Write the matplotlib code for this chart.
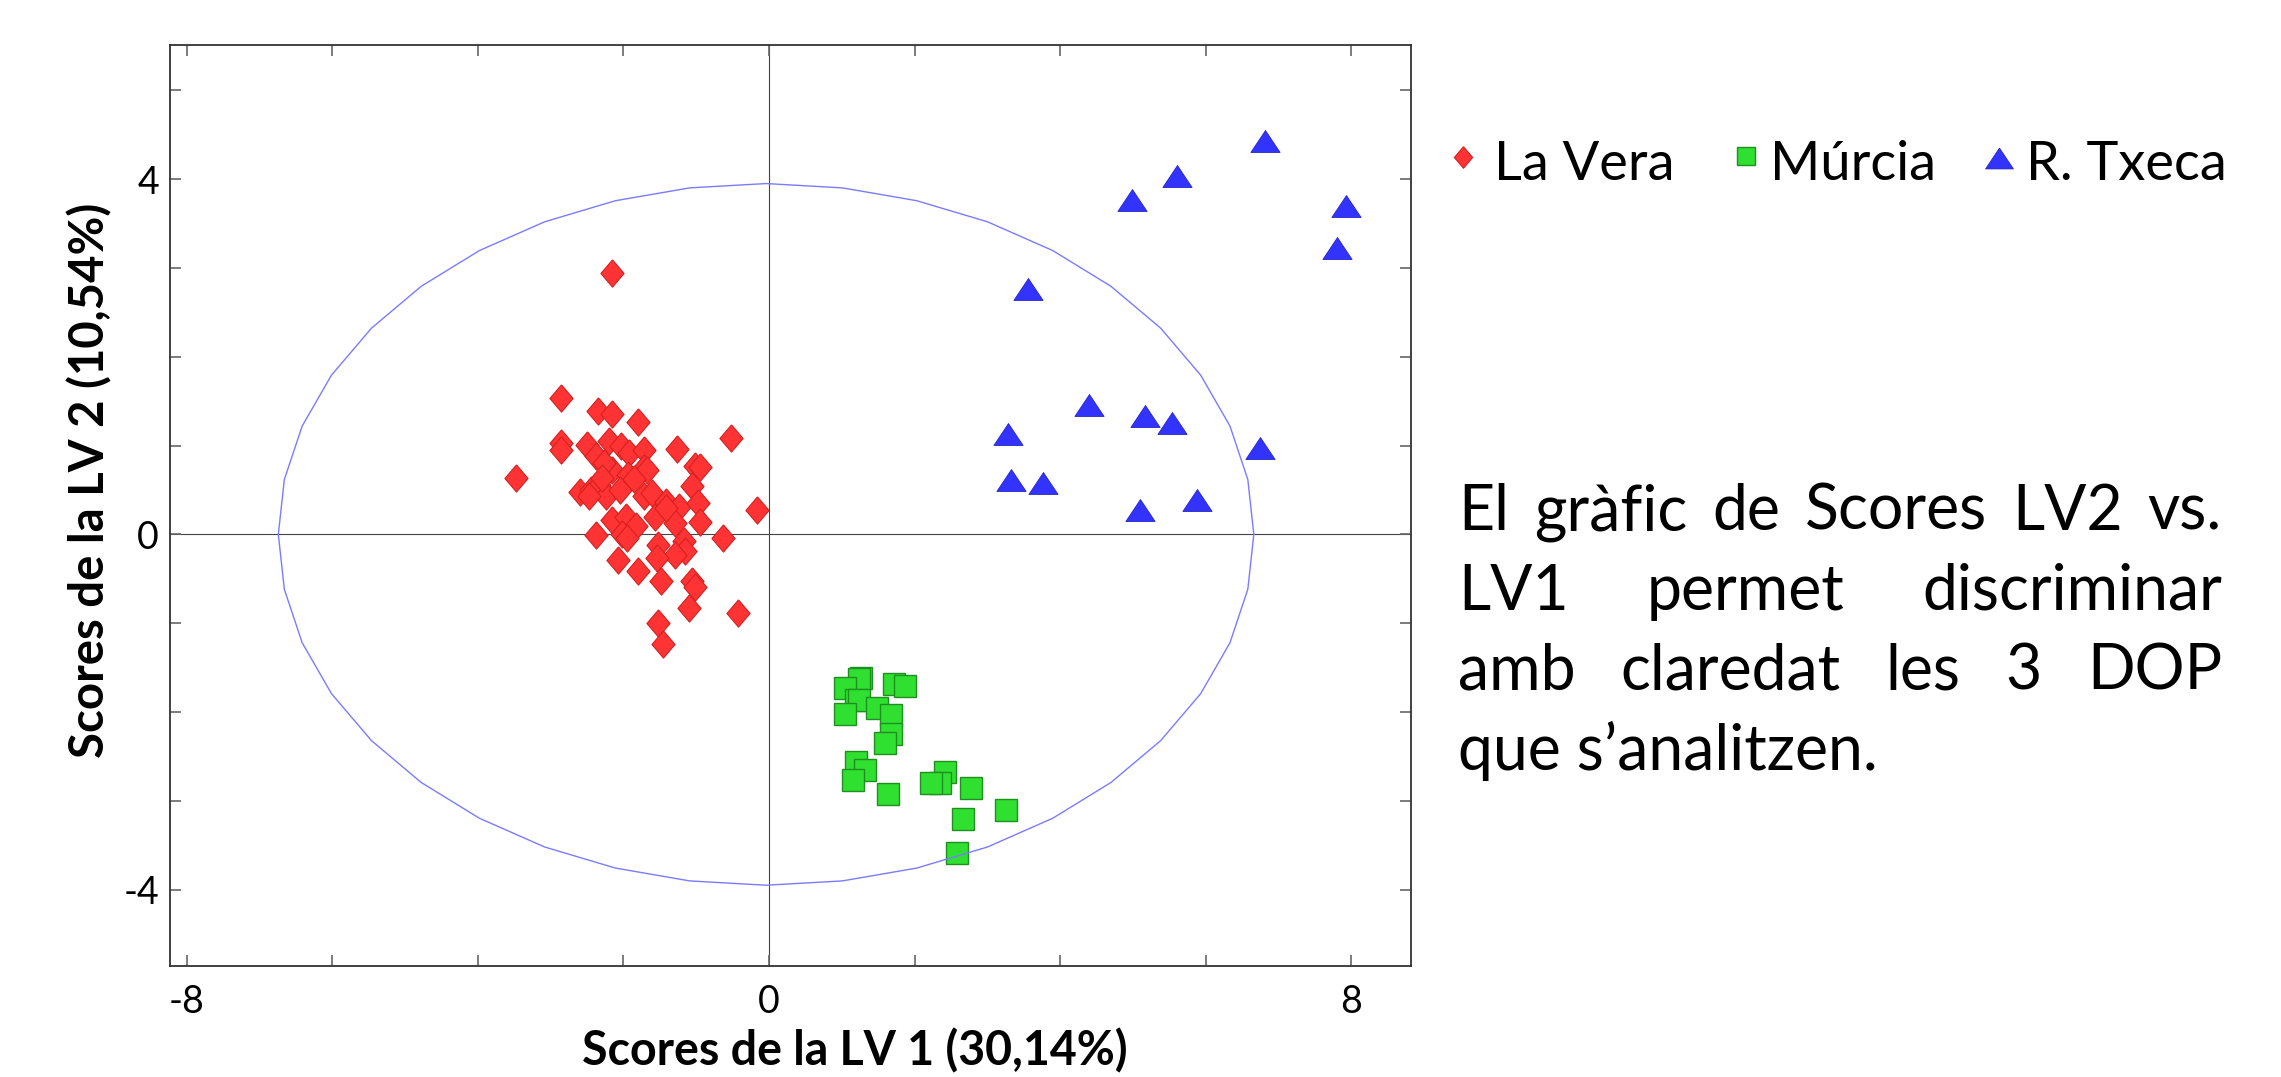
import numpy as np
import matplotlib
matplotlib.use("Agg")
import matplotlib.pyplot as plt
from matplotlib.lines import Line2D

plt.rcParams['font.family'] = ['Lato', 'DejaVu Sans']

# PLS-DA scores (LV1, LV2) for each origin
vera_lv1 = [-2.15, -2.86, -2.35, -2.15, -1.80, -0.52, -2.86, -2.86, -1.26, -2.50,
            -2.38, -2.20, -2.03, -1.92, -1.72, -1.72, -1.02, -0.95, -2.15, -1.93,
            -1.06, -3.48, -2.59, -2.45, -2.34, -2.24, -2.04, -1.72, -1.61, -1.42,
            -1.24, -0.97, -0.16, -2.15, -1.97, -1.83, -1.56, -1.29, -0.95, -2.38,
            -2.02, -1.95, -0.63, -1.52, -1.17, -1.15, -1.29, -1.54, -2.07, -1.80,
            -1.49, -1.06, -1.02, -1.10, -0.43, -1.53, -1.45, -1.68, -1.42, -2.27,
            -1.86, -2.47, -2.29]
vera_lv2 = [2.94, 1.54, 1.39, 1.36, 1.27, 1.08, 1.03, 0.95, 0.96, 1.01,
            0.88, 1.05, 0.99, 0.92, 0.95, 0.75, 0.77, 0.76, 0.73, 0.67,
            0.54, 0.63, 0.48, 0.50, 0.56, 0.43, 0.50, 0.43, 0.47, 0.37,
            0.31, 0.35, 0.27, 0.16, 0.20, 0.09, 0.20, 0.13, 0.14, -0.01,
            0.01, -0.04, -0.04, -0.12, -0.08, -0.19, -0.23, -0.27, -0.29, -0.41,
            -0.53, -0.53, -0.59, -0.83, -0.89, -1.00, -1.23, 0.73, 0.30, 0.80,
            0.62, 0.43, 0.64]

murcia_lv1 = [1.27, 1.24, 1.04, 1.72, 1.87, 1.20, 1.24, 1.48, 1.04, 1.67, 1.67,
              1.60, 1.20, 1.32, 1.16, 1.64, 2.42, 2.35, 2.23, 2.77, 3.25, 2.66, 2.58]
murcia_lv2 = [-1.62, -1.63, -1.73, -1.68, -1.71, -1.86, -1.86, -1.95, -2.02, -2.03, -2.25,
              -2.35, -2.56, -2.65, -2.77, -2.92, -2.68, -2.80, -2.80, -2.86, -3.10, -3.20, -3.59]

txeca_lv1 = [6.82, 5.60, 4.98, 7.92, 7.80, 3.56, 4.39, 5.17, 5.53, 3.29, 6.74, 3.33, 3.76, 5.88, 5.10]
txeca_lv2 = [4.43, 4.04, 3.77, 3.70, 3.22, 2.76, 1.46, 1.33, 1.25, 1.13, 0.97, 0.61, 0.58, 0.39, 0.27]

groups = ["La Vera", "Múrcia", "R. Txeca"]

x_ticks = [-8, -6, -4, -2, 0, 2, 4, 6, 8]
x_ticklabels = ["-8", "", "", "", "0", "", "", "", "8"]
y_ticks = [-4, -3, -2, -1, 0, 1, 2, 3, 4, 5]
y_ticklabels = ["-4", "", "", "", "0", "", "", "", "4", ""]

# confidence ellipse (centre, semi-axes)
ell_center = (-0.04, 0.0)
ell_axes = (6.70, 3.95)

text_lines = [["El", "gràfic", "de", "Scores", "LV2", "vs."],
              ["LV1", "permet", "discriminar"],
              ["amb", "claredat", "les", "3", "DOP"],
              ["que s’analitzen."]]

W, H = 2281, 1077
fig = plt.figure(figsize=(W / 100, H / 100), dpi=100)
ax = fig.add_axes([170 / W, 1 - 965.7 / H, (1410.7 - 170) / W, (965.7 - 45) / H])

diamond = [(0, 1), (0.85, 0), (0, -1), (-0.85, 0), (0, 1)]
triangle = [(0, 0.75), (1, -0.75), (-1, -0.75), (0, 0.75)]

styles = [
    dict(marker=diamond, ms=19.6, mfc="#ff3333", mec="#d42020", mew=0.8),
    dict(marker="s", ms=16.4, mfc="#30e030", mec="#1f8f1f", mew=1.0),
    dict(marker=triangle, ms=21, mfc="#3333ff", mec="#2424c0", mew=0.6),
]

ax.axhline(0, color="#444444", lw=0.8, zorder=1)
ax.axvline(0, color="#444444", lw=0.8, zorder=1)

for (xs, ys), st in zip([(vera_lv1, vera_lv2), (murcia_lv1, murcia_lv2),
                         (txeca_lv1, txeca_lv2)], styles):
    ax.plot(xs, ys, ls="none", zorder=3, **st)

t = np.linspace(0, 2 * np.pi, 41)
ax.plot(ell_center[0] + ell_axes[0] * np.cos(t), ell_center[1] + ell_axes[1] * np.sin(t),
        color="#7b7bff", lw=1.0, zorder=4)

ax.set_xlim(-8.228, 8.815)
ax.set_ylim(-4.856, 5.51)
ax.set_xticks(x_ticks)
ax.set_xticklabels(x_ticklabels)
ax.set_yticks(y_ticks)
ax.set_yticklabels(y_ticklabels)
ax.tick_params(direction="in", length=8, width=1.2, color="#666666",
               top=True, right=True, labelsize=27)
ax.tick_params(axis="x", pad=13)
ax.tick_params(axis="y", pad=8)
for sp in ax.spines.values():
    sp.set_color("#333333")
    sp.set_linewidth(1.3)

fig.text(855 / W, 1 - 1065 / H, "Scores de la LV 1 (30,14%)", ha="center",
         va="baseline", fontsize=33.5, fontweight="bold")
fig.text(90 / W, 1 - 480 / H, "Scores de la LV 2 (10,54%)", ha="center",
         va="center", rotation=90, fontsize=34, fontweight="bold")

# legend row above the text block
leg_marks = [(1463, 157), (1746, 156), (1999, 158)]
leg_text_x = [1494, 1770, 2026]
leg_sizes = [15.5, 13.5, 20]
for st, (mx, my), tx, ms, name in zip(styles, leg_marks, leg_text_x, leg_sizes, groups):
    kw = dict(st)
    kw["ms"] = ms
    fig.add_artist(Line2D([mx / W], [1 - my / H], transform=fig.transFigure, ls="none", **kw))
    fig.text(tx / W, 1 - 180 / H, name, fontsize=39, va="baseline", ha="left")

# justified paragraph
left, right = 1458, 2222
baselines = [530, 610, 690, 770]
renderer = fig.canvas.get_renderer()
for words, base in zip(text_lines, baselines):
    objs = [fig.text(0, 1 - base / H, w, fontsize=45, va="baseline", ha="left") for w in words]
    widths = [o.get_window_extent(renderer).width for o in objs]
    gap = (right - left - sum(widths)) / (len(words) - 1) if len(words) > 1 else 0
    x = left
    for o, w in zip(objs, widths):
        o.set_x(x / W)
        x += w + gap

fig.savefig("out.png", dpi=100)
